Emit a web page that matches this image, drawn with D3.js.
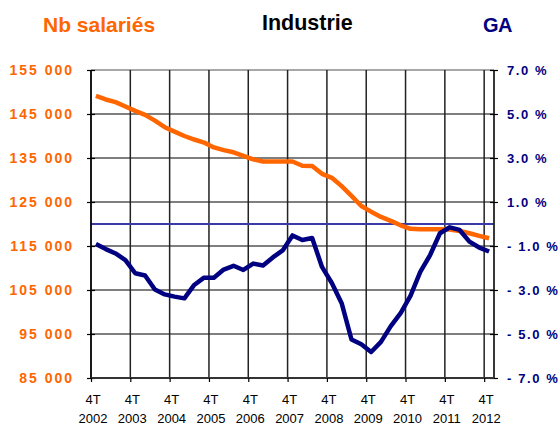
<!DOCTYPE html>
<html><head><meta charset="utf-8">
<script src="https://cdn.jsdelivr.net/npm/d3@7"></script>
<style>body{margin:0;background:#fff}svg{display:block;font-family:"Liberation Sans",Arial,sans-serif}</style>
</head><body><svg id="c" width="559" height="427"></svg>
<script>
const quarters = ["4T 2002","1T 2003","2T 2003","3T 2003","4T 2003","1T 2004","2T 2004","3T 2004","4T 2004","1T 2005","2T 2005","3T 2005","4T 2005","1T 2006","2T 2006","3T 2006","4T 2006","1T 2007","2T 2007","3T 2007","4T 2007","1T 2008","2T 2008","3T 2008","4T 2008","1T 2009","2T 2009","3T 2009","4T 2009","1T 2010","2T 2010","3T 2010","4T 2010","1T 2011","2T 2011","3T 2011","4T 2011","1T 2012","2T 2012","3T 2012","4T 2012"];
const salaries = [149100,148300,147700,146700,145700,144800,143500,142000,141000,140000,139200,138500,137400,136800,136300,135500,134700,134200,134200,134200,134200,133250,133200,131400,130500,128600,126400,124100,122800,121600,120700,119700,118900,118800,118800,118800,118750,118400,117900,117300,116750];
const ga = [-0.91,-1.14,-1.34,-1.64,-2.24,-2.34,-2.98,-3.2,-3.3,-3.38,-2.77,-2.44,-2.44,-2.07,-1.9,-2.09,-1.8,-1.89,-1.52,-1.2,-0.52,-0.73,-0.64,-1.95,-2.68,-3.6,-5.25,-5.47,-5.82,-5.36,-4.64,-4.05,-3.27,-2.18,-1.41,-0.42,-0.15,-0.27,-0.8,-1.07,-1.25];
const leftTicks = [85000,95000,105000,115000,125000,135000,145000,155000];
const rightTicks = [-7,-5,-3,-1,1,3,5,7];
const xLabelYears = ["2002","2003","2004","2005","2006","2007","2008","2009","2010","2011","2012"];

const svg = d3.select("#c");
const L = 91, R = 494, T = 70, B = 378;
const x = d3.scaleLinear().domain([0, quarters.length]).range([L, R]);
const yL = d3.scaleLinear().domain([85000,155000]).range([B, T]);
const yR = d3.scaleLinear().domain([-7,7]).range([B, T]);
const yearIdx = xLabelYears.map((d,i)=>i*4);

// horizontal grid
svg.append("g").selectAll("line").data(leftTicks).join("line")
  .attr("x1",L).attr("x2",R).attr("y1",d=>yL(d)).attr("y2",d=>yL(d))
  .attr("stroke",d=>d===155000?"#8a8a8a":"#555").attr("stroke-width",1.5);
// vertical grid
svg.append("g").selectAll("line").data(yearIdx.slice(1)).join("line")
  .attr("x1",d=>x(d)).attr("x2",d=>x(d)).attr("y1",T).attr("y2",B)
  .attr("stroke","#222").attr("stroke-width",1.5);

// zero line
svg.append("line").attr("x1",L).attr("x2",R).attr("y1",yR(0)).attr("y2",yR(0))
  .attr("stroke","#3a3aa8").attr("stroke-width",2);

// axes
const gL = svg.append("g").attr("transform",`translate(${L},0)`)
  .call(d3.axisLeft(yL).tickValues(leftTicks).tickSize(4).tickFormat(""));
gL.selectAll("line").attr("x2",-4).attr("x1",4).attr("stroke","#000").attr("stroke-width",1.2);
gL.select(".domain").attr("stroke","#000").attr("stroke-width",1.8).attr("d",`M0,${T}V${B}`);

const gR = svg.append("g").attr("transform",`translate(${R},0)`)
  .call(d3.axisRight(yR).tickValues(rightTicks).tickSize(4).tickFormat(""));
gR.selectAll("line").attr("x1",-4).attr("stroke","#000").attr("stroke-width",1.2);
gR.select(".domain").attr("stroke","#222").attr("stroke-width",1.8).attr("d",`M0,${T}V${B}`);

const gB = svg.append("g").attr("transform",`translate(0,${B})`)
  .call(d3.axisBottom(x).tickValues(yearIdx).tickSize(4).tickFormat(""));
gB.selectAll("line").attr("stroke","#000").attr("stroke-width",1.2);
gB.select(".domain").attr("stroke","#333").attr("stroke-width",2).attr("d",`M${L},0H${R}`);

// labels
const fmtL = d => d3.format(",")(d).replace(/,/g," ");
svg.append("g").selectAll("text").data(leftTicks).join("text")
  .attr("x",74).attr("y",d=>yL(d)+5).attr("text-anchor","end")
  .attr("fill","#FF6600").attr("font-weight","bold").attr("font-size",14)
  .attr("letter-spacing",2).text(fmtL);
svg.append("g").selectAll("text").data(rightTicks).join("text")
  .attr("x",507).attr("y",d=>yR(d)+5).attr("text-anchor","start")
  .attr("fill","#000080").attr("font-weight","bold").attr("font-size",13)
  .attr("letter-spacing",1.6).text(d=>(d<0?"- ":"")+Math.abs(d).toFixed(1)+" %");
const xl = svg.append("g").selectAll("g").data(yearIdx).join("g")
  .attr("transform",d=>`translate(${x(d)+2},0)`);
xl.append("text").attr("y",404).attr("text-anchor","middle").attr("font-size",13)
  .attr("fill","#000").text(d=>quarters[d].split(" ")[0]);
xl.append("text").attr("y",423).attr("text-anchor","middle").attr("font-size",13)
  .attr("fill","#000").text(d=>quarters[d].split(" ")[1]);

// lines
const cx = i => x(i + 0.5);
svg.append("path").datum(salaries)
  .attr("d",d3.line().x((d,i)=>cx(i)).y(d=>yL(d)))
  .attr("fill","none").attr("stroke","#FF6600").attr("stroke-width",4.5).attr("stroke-linejoin","round");
svg.append("path").datum(ga)
  .attr("d",d3.line().x((d,i)=>cx(i)).y(d=>yR(d)))
  .attr("fill","none").attr("stroke","#000080").attr("stroke-width",4.5).attr("stroke-linejoin","round");

// titles
svg.append("text").attr("x",43).attr("y",31.5).attr("font-size",21).attr("font-weight","bold")
  .attr("fill","#FF6600").text("Nb salariés");
svg.append("text").attr("x",262).attr("y",29.5).attr("font-size",21.5).attr("font-weight","bold")
  .attr("fill","#000").text("Industrie");
svg.append("text").attr("x",483).attr("y",31.5).attr("font-size",20).attr("font-weight","bold")
  .attr("fill","#000080").attr("letter-spacing",-0.5).text("GA");
</script></body></html>
